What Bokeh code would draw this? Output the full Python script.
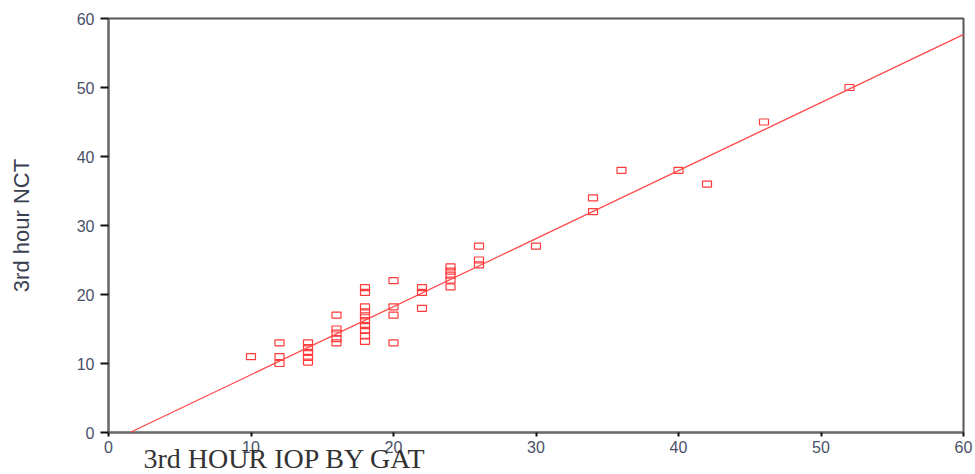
from bokeh.plotting import figure
from bokeh.models import Range1d, FixedTicker, Slope, Title, ColumnDataSource
from bokeh.embed import file_html
from bokeh.resources import INLINE

# GAT (x) vs NCT (y) readings, 3rd hour
gat = [10,
       12, 12, 12,
       14, 14, 14, 14, 14,
       16, 16, 16, 16, 16,
       18, 18, 18, 18, 18, 18, 18, 18, 18, 18,
       20, 20, 20, 20,
       22, 22, 22,
       24, 24, 24, 24, 24,
       26, 26, 26,
       30, 34, 34, 36, 40, 42, 46, 52]
nct = [11,
       13, 11, 10,
       13, 12.3, 11.6, 10.9, 10.2,
       17, 15, 14.4, 13.6, 13,
       21, 20.3, 18.2, 17.5, 16.9, 16.2, 15.5, 14.8, 14, 13.2,
       22, 18.2, 17, 13,
       21, 20.3, 18,
       24, 23.4, 22.8, 22.1, 21.1,
       27, 25, 24.3,
       27, 34, 32, 38, 38, 36, 45, 50]

fit_intercept = -1.48
fit_slope = 0.986

x_ticks = [0, 10, 20, 30, 40, 50, 60]
y_ticks = [0, 10, 20, 30, 40, 50, 60]

p = figure(width=975, height=474, output_backend="svg", toolbar_location=None,
           x_range=Range1d(0, 60), y_range=Range1d(0, 60),
           min_border_left=108, min_border_right=12, min_border_top=18, min_border_bottom=42)
p.grid.visible = False
p.background_fill_color = "white"
p.border_fill_color = "white"
p.outline_line_color = "#555555"
p.outline_line_width = 2

src = ColumnDataSource(dict(x=gat, y=nct))
p.rect("x", "y", width=9, height=6, width_units="screen", height_units="screen",
       source=src, fill_color=None, line_color="#ff3b3b", line_width=1.2)

p.add_layout(Slope(gradient=fit_slope, y_intercept=fit_intercept,
                   line_color="#ff4a4a", line_width=1.2))

for ax in (p.xaxis[0], p.yaxis[0]):
    ax.axis_line_color = "#6a6a6a"
    ax.axis_line_width = 2
    ax.major_tick_line_color = "#111111"
    ax.major_tick_line_width = 2
    ax.minor_tick_line_color = None
    ax.major_tick_in = 0
    ax.major_label_text_font = "Liberation Sans"
    ax.major_label_text_color = "#4a5068"
    ax.major_label_text_font_size = "16px"

p.xaxis.ticker = FixedTicker(ticks=x_ticks)
p.yaxis.ticker = FixedTicker(ticks=y_ticks)
p.xaxis.major_tick_out = 4
p.xaxis.major_label_standoff = 4
p.yaxis.major_tick_out = 8
p.yaxis.major_label_standoff = 6

p.yaxis.axis_label = "3rd hour NCT"
p.yaxis.axis_label_text_font = "Liberation Sans"
p.yaxis.axis_label_text_font_style = "normal"
p.yaxis.axis_label_text_font_size = "22px"
p.yaxis.axis_label_text_color = "#3a4052"
p.yaxis.axis_label_standoff = 40

p.add_layout(Title(text="3rd HOUR IOP BY GAT", text_font="Liberation Serif",
                   text_font_size="28px", text_font_style="normal",
                   text_color="#333333", align="left", offset=35,
                   standoff=-30), "below")

open("out.html", "w").write(file_html(p, INLINE))
